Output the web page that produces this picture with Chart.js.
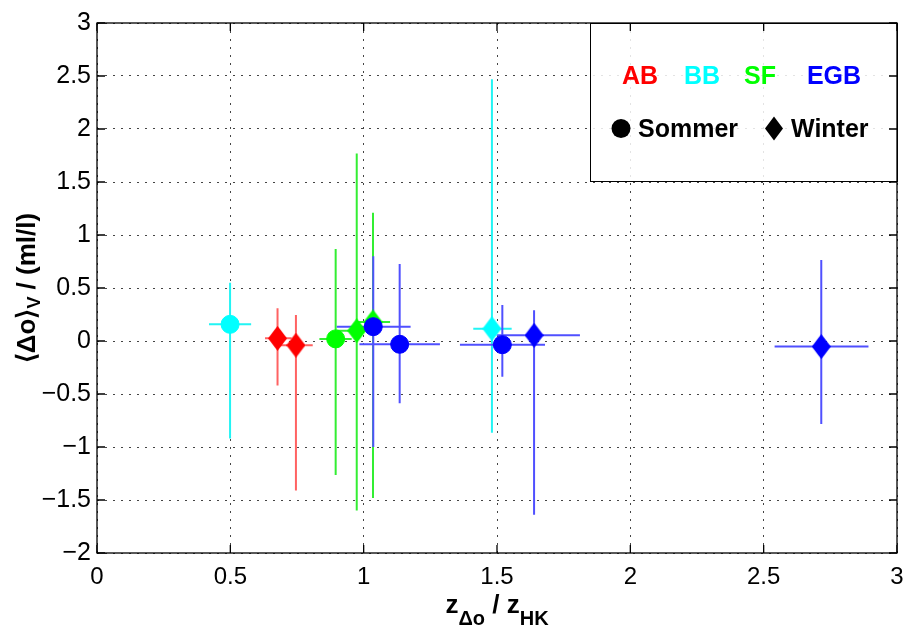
<!DOCTYPE html>
<html>
<head>
<meta charset="utf-8">
<script src="https://cdn.jsdelivr.net/npm/chart.js@4/dist/chart.umd.min.js"></script>
<style>
  html, body { margin: 0; padding: 0; background: #fff; }
  #wrap { width: 905px; height: 630px; }
</style>
</head>
<body>
<div id="wrap"><canvas id="chart" width="905" height="630"></canvas></div>
<script>
// each point: [x, y, xLow, xHigh, yLow, yHigh]
const abWinter = [[0.677, 0.025, 0.63, 0.73, -0.42, 0.31], [0.746, -0.04, 0.686, 0.809, -1.41, 0.245]];
const bbSommer = [[0.499, 0.157, 0.42, 0.578, -0.92, 0.55]];
const bbWinter = [[1.481, 0.116, 1.411, 1.555, -0.865, 2.47]];
const sfSommer = [[0.895, 0.02, 0.834, 0.955, -1.264, 0.868]];
const sfWinter = [[0.974, 0.097, 0.9, 1.03, -1.6, 1.77], [1.035, 0.18, 0.974, 1.099, -1.48, 1.21]];
const egbSommer = [[1.036, 0.135, 0.899, 1.176, -1.0, 0.8], [1.135, -0.031, 0.984, 1.286, -0.588, 0.726], [1.52, -0.035, 1.361, 1.68, -0.337, 0.34]];
const egbWinter = [[1.639, 0.054, 1.499, 1.811, -1.64, 0.29], [2.716, -0.053, 2.541, 2.893, -0.783, 0.764]];

const groups = ['AB', 'BB', 'SF', 'EGB'];
const groupColors = ['#ff0000', '#00ffff', '#00ff00', '#0000ff'];
const barColors = ['#ff6262', '#22f4f4', '#33ee33', '#5050ff'];

const FONT = 'Liberation Sans, Arial, Helvetica, sans-serif';

function toPoints(rows) {
  return rows.map(r => ({ x: r[0], y: r[1], xLow: r[2], xHigh: r[3], yLow: r[4], yHigh: r[5] }));
}

function diamond(color) {
  const c = document.createElement('canvas');
  c.width = 19; c.height = 25;
  const g = c.getContext('2d');
  g.fillStyle = color;
  g.beginPath();
  g.moveTo(9.5, 0); g.lineTo(19, 12.5); g.lineTo(9.5, 25); g.lineTo(0, 12.5);
  g.closePath(); g.fill();
  return c;
}

function sommer(rows, gi) {
  return {
    label: groups[gi] + ' Sommer', data: toPoints(rows), order: 3 - gi,
    pointStyle: 'circle', pointRadius: 9, borderWidth: 1,
    backgroundColor: groupColors[gi], borderColor: groupColors[gi], barColor: barColors[gi]
  };
}
function winter(rows, gi) {
  return {
    label: groups[gi] + ' Winter', data: toPoints(rows), order: 3 - gi,
    pointStyle: diamond(groupColors[gi]), pointRadius: 12,
    backgroundColor: groupColors[gi], borderColor: groupColors[gi], barColor: barColors[gi]
  };
}

const errorBars = {
  id: 'errorBars',
  beforeDatasetsDraw(chart) {
    const { ctx, scales: { x, y } } = chart;
    ctx.save();
    ctx.lineWidth = 2;
    chart.data.datasets.forEach(ds => {
      ctx.strokeStyle = ds.barColor;
      ds.data.forEach(p => {
        const px = x.getPixelForValue(p.x), py = y.getPixelForValue(p.y);
        ctx.beginPath();
        ctx.moveTo(px, y.getPixelForValue(p.yLow));
        ctx.lineTo(px, y.getPixelForValue(p.yHigh));
        ctx.moveTo(x.getPixelForValue(p.xLow), py);
        ctx.lineTo(x.getPixelForValue(p.xHigh), py);
        ctx.stroke();
      });
    });
    ctx.restore();
  }
};

// draws runs of [text, size, baselineShift] left to right
function runs(ctx, parts, x0, y0) {
  let x = x0;
  parts.forEach(([t, s, dy]) => {
    ctx.font = 'bold ' + s + 'px ' + FONT;
    ctx.fillText(t, x, y0 + dy);
    x += ctx.measureText(t).width;
  });
}
function runsWidth(ctx, parts) {
  return parts.reduce((w, [t, s]) => { ctx.font = 'bold ' + s + 'px ' + FONT; return w + ctx.measureText(t).width; }, 0);
}

const decor = {
  id: 'decor',
  afterDraw(chart) {
    const { ctx, chartArea: a, scales: { x, y } } = chart;
    ctx.save();

    // legend box
    const lx = 590, ly = a.top, lw = a.right - 590, lh = 181 - a.top;
    ctx.fillStyle = 'rgba(255,255,255,0.85)';
    ctx.fillRect(lx, ly, lw, lh);
    ctx.strokeStyle = '#000'; ctx.lineWidth = 1;
    ctx.strokeRect(lx + 0.5, ly + 0.5, lw, lh);
    ctx.textBaseline = 'alphabetic';
    ctx.textAlign = 'center';
    ctx.font = 'bold 25px ' + FONT;
    const gx = [640, 702, 760, 834];
    groups.forEach((g, i) => { ctx.fillStyle = groupColors[i]; ctx.fillText(g, gx[i], 84); });
    ctx.fillStyle = '#000';
    ctx.textAlign = 'left';
    ctx.fillText('Sommer', 638, 137);
    ctx.fillText('Winter', 791, 137);
    ctx.beginPath(); ctx.arc(621, 128.5, 9.5, 0, Math.PI * 2); ctx.fill();
    ctx.beginPath();
    ctx.moveTo(774, 116.5); ctx.lineTo(783, 128.5); ctx.lineTo(774, 140.5); ctx.lineTo(765, 128.5);
    ctx.closePath(); ctx.fill();

    // axis box and inward ticks
    ctx.strokeStyle = '#000'; ctx.lineWidth = 1.3;
    ctx.strokeRect(a.left, a.top, a.right - a.left, a.bottom - a.top);
    ctx.beginPath();
    x.ticks.forEach(t => {
      const px = x.getPixelForValue(t.value);
      ctx.moveTo(px, a.bottom); ctx.lineTo(px, a.bottom - 8);
      ctx.moveTo(px, a.top); ctx.lineTo(px, a.top + 8);
    });
    y.ticks.forEach(t => {
      const py = y.getPixelForValue(t.value);
      ctx.moveTo(a.left, py); ctx.lineTo(a.left + 8, py);
      ctx.moveTo(a.right, py); ctx.lineTo(a.right - 8, py);
    });
    ctx.stroke();

    // axis titles
    ctx.fillStyle = '#000';
    ctx.textAlign = 'left';
    const xt = [['z', 26, 0], ['\u0394o', 20, 12], [' / z', 26, 0], ['HK', 20, 12]];
    const xw = runsWidth(ctx, xt);
    runs(ctx, xt, (a.left + a.right) / 2 - xw / 2, 613);

    const yt = [['\u27E8\u0394o\u27E9', 26, 0], ['V', 18, 5], [' / (ml/l)', 26, 0]];
    const yw = runsWidth(ctx, yt);
    ctx.translate(35, (a.top + a.bottom) / 2);
    ctx.rotate(-Math.PI / 2);
    runs(ctx, yt, -yw / 2, 0);
    ctx.restore();
  }
};

const tickFmt = v => String(v).replace('-', '\u2212');

new Chart(document.getElementById('chart').getContext('2d'), {
  type: 'scatter',
  data: {
    datasets: [
      winter(abWinter, 0),
      sommer(bbSommer, 1), winter(bbWinter, 1),
      sommer(sfSommer, 2), winter(sfWinter, 2),
      sommer(egbSommer, 3), winter(egbWinter, 3)
    ]
  },
  options: {
    responsive: false,
    animation: false,
    layout: { autoPadding: false, padding: { top: 23, right: 8, left: 0, bottom: 0 } },
    plugins: { legend: { display: false }, tooltip: { enabled: false } },
    scales: {
      x: {
        min: 0, max: 3,
        ticks: { stepSize: 0.5, color: '#000', padding: 10, font: { family: FONT, size: 24 }, callback: tickFmt },
        grid: { color: '#444', lineWidth: 1, drawTicks: false },
        border: { display: false, dash: [2, 6] },
        afterFit: s => { s.height = 77; s.paddingRight = 0; s.paddingLeft = 0; }
      },
      y: {
        min: -2, max: 3,
        ticks: { stepSize: 0.5, color: '#000', padding: 6, font: { family: FONT, size: 25 }, callback: tickFmt },
        grid: { color: '#444', lineWidth: 1, drawTicks: false },
        border: { display: false, dash: [2, 6] },
        afterFit: s => { s.width = 97; s.paddingTop = 0; s.paddingBottom = 0; }
      }
    }
  },
  plugins: [errorBars, decor]
});
</script>
</body>
</html>
